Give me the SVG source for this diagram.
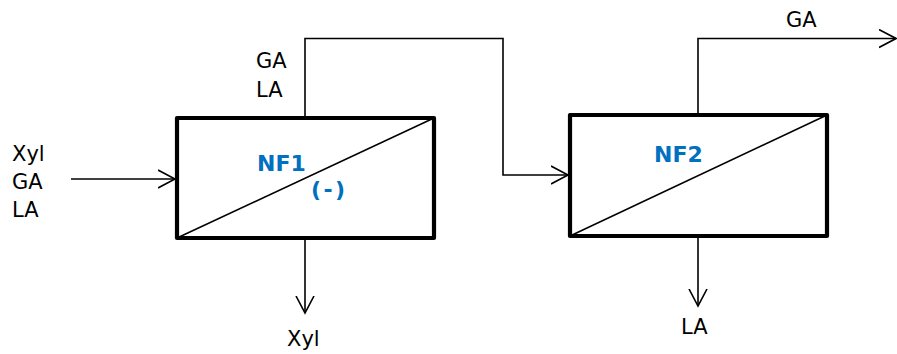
<svg xmlns="http://www.w3.org/2000/svg" width="897" height="354" viewBox="0 0 897 354">
<defs>
<style>
.box{fill:#fff;stroke:#000;stroke-width:4.2;stroke-linejoin:round}
.diag{stroke:#000;stroke-width:1.6;fill:none}
.ln{stroke:#000;stroke-width:1.6;fill:none}
.t{font-family:"DejaVu Sans",Verdana,sans-serif;font-size:21px;fill:#000}
.b{font-family:"DejaVu Sans",Verdana,sans-serif;font-size:22px;font-weight:bold;fill:#0070C0}
</style>
<marker id="arr" markerWidth="20" markerHeight="20" refX="17" refY="10" orient="auto" markerUnits="userSpaceOnUse">
<path d="M0,1 L17,10 L0,19" fill="none" stroke="#000" stroke-width="1.6"/>
</marker>
</defs>
<g id="connectors">
<line class="ln" x1="71" y1="179" x2="175" y2="179" marker-end="url(#arr)"/>
<polyline class="ln" points="305,118 305,38.5 503,38.5 503,175 568,175" marker-end="url(#arr)"/>
<polyline class="ln" points="698,115 698,38.5 896,38.5" marker-end="url(#arr)"/>
<line class="ln" x1="305" y1="240" x2="305" y2="313" marker-end="url(#arr)"/>
<line class="ln" x1="698" y1="237" x2="698" y2="306" marker-end="url(#arr)"/>
</g>
<g id="NF1">
<rect class="box" x="177" y="118" width="257" height="120"/>
<line class="diag" x1="177" y1="238" x2="434" y2="118"/>
<text class="b" x="257" y="171">NF1</text>
<text class="b" x="311" y="197" textLength="34" lengthAdjust="spacing">(-)</text>
</g>
<g id="NF2">
<rect class="box" x="570" y="115" width="257" height="121"/>
<line class="diag" x1="570" y1="236" x2="827" y2="115"/>
<text class="b" x="654" y="162">NF2</text>
</g>
<g id="labels">
<text class="t" x="12" y="161">Xyl</text>
<text class="t" x="12" y="189">GA</text>
<text class="t" x="12" y="217">LA</text>
<text class="t" x="256" y="68">GA</text>
<text class="t" x="256" y="97">LA</text>
<text class="t" x="287" y="346">Xyl</text>
<text class="t" x="786" y="27">GA</text>
<text class="t" x="681" y="334">LA</text>
</g>
</svg>
